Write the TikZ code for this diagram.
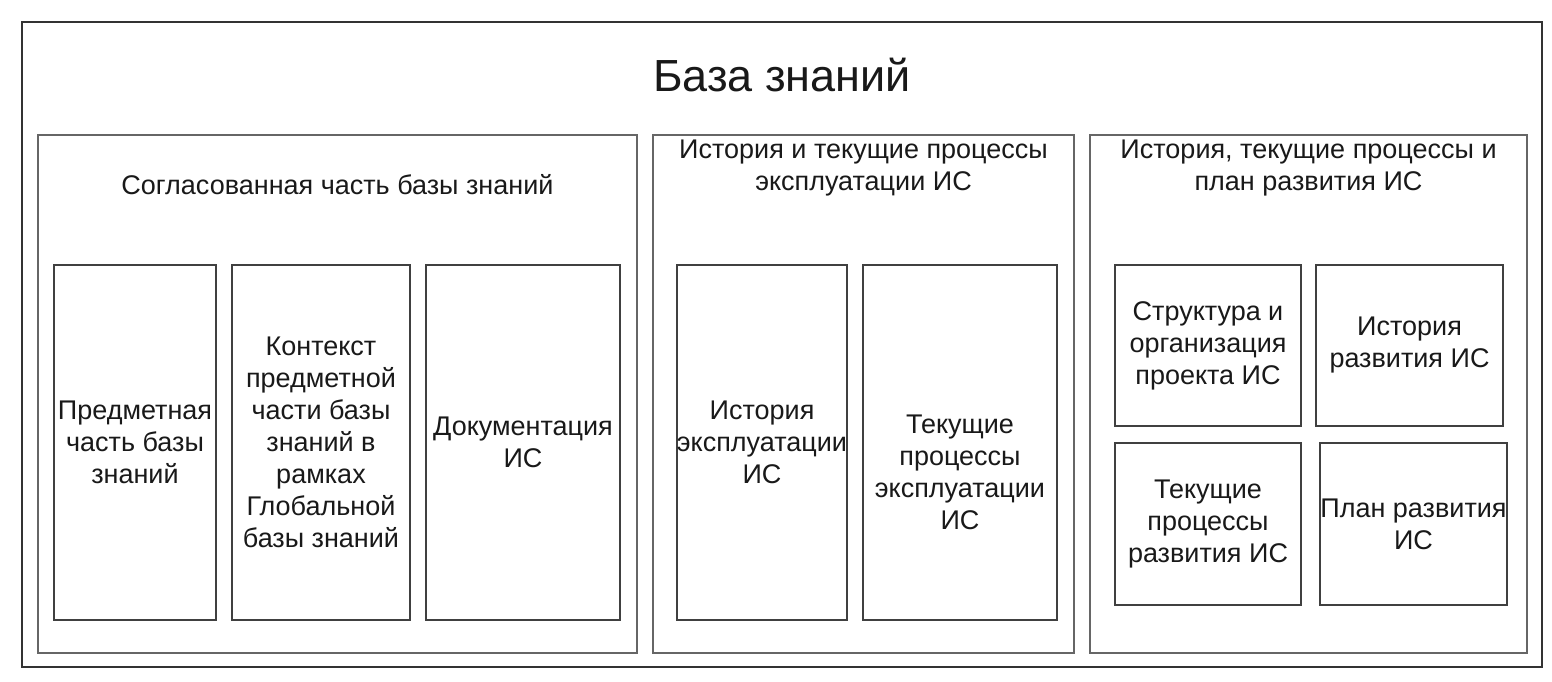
\documentclass[tikz,border=0pt]{standalone}
\usepackage{fontspec}
\setmainfont{Liberation Sans}
\begin{document}
\begin{tikzpicture}[x=1pt,y=-1pt,
  frame/.style={draw=black!80,line width=2.4pt},
  panel/.style={draw=black!60,line width=1.4pt},
  cell/.style={draw=black!75,line width=1.2pt,inner sep=0pt,align=center,
    font=\fontsize{27}{32}\selectfont,text=black!90},
  caption/.style={align=center,font=\fontsize{27}{32}\selectfont,text=black!90,inner sep=0pt}]
\useasboundingbox (0,0) rectangle (1552,681);
\fill[white] (0,0) rectangle (1552,681);
% outer frame and title
\draw[frame] (22,22) rectangle (1542,667);
\node[caption,font=\fontsize{45}{50}\selectfont] (title) at (782,75) {База знаний};
% three panels
\draw[panel] (38,135) rectangle (637,653);
\draw[panel] (653,135) rectangle (1074,653);
\draw[panel] (1090,135) rectangle (1527,653);
\node[caption] (p1) at (337.5,185) {Согласованная часть базы знаний};
\node[caption] (p2) at (863.5,168) {История и текущие процессы\\эксплуатации ИС};
\node[caption] (p3) at (1308.5,168) {История, текущие процессы и\\план развития ИС};
% first panel cells
\node[cell,minimum width=162pt,minimum height=355pt] (a1) at (135,442.5) {Предметная\\часть базы\\знаний};
\node[cell,minimum width=178pt,minimum height=355pt] (a2) at (321,442.5) {Контекст\\предметной\\части базы\\знаний в\\рамках\\Глобальной\\базы знаний};
\node[cell,minimum width=194pt,minimum height=355pt] (a3) at (523,442.5) {Документация\\ИС};
% second panel cells
\node[cell,minimum width=170pt,minimum height=355pt] (b1) at (762,442.5) {История\\эксплуатации\\ИС};
\node[cell,minimum width=194pt,minimum height=355pt] (b2) at (960,442.5) {};
\node[caption] (b2t) at ([yshift=-30pt]b2.center) {Текущие\\процессы\\эксплуатации\\ИС};
% third panel cells
\node[cell,minimum width=186pt,minimum height=161pt] (c1) at (1208,345.5) {Структура и\\организация\\проекта ИС};
\node[cell,minimum width=187pt,minimum height=161pt] (c2) at (1409.5,345.5) {История\\развития ИС};
\node[cell,minimum width=186pt,minimum height=162pt] (c3) at (1208,524) {Текущие\\процессы\\развития ИС};
\node[cell,minimum width=187pt,minimum height=162pt] (c4) at (1413.5,524) {План развития\\ИС};
\end{tikzpicture}
\end{document}
